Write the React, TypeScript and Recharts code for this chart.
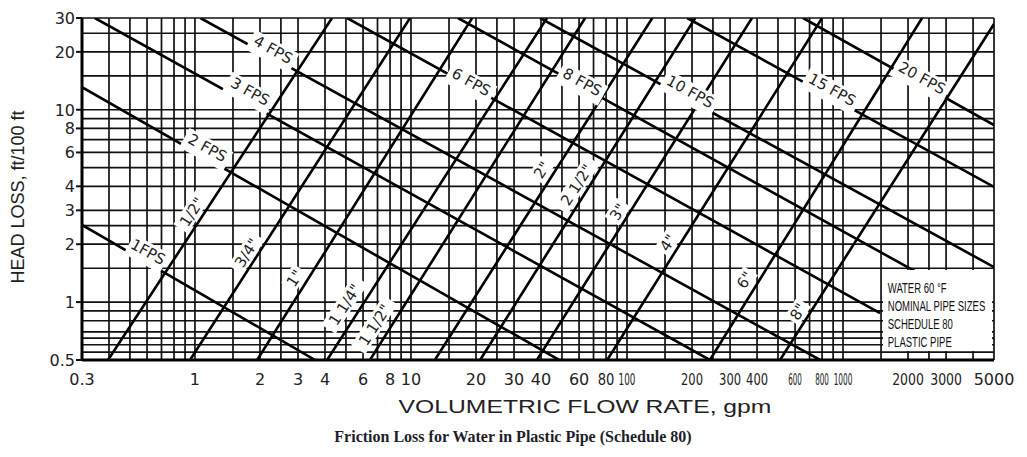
import { LineChart, Line, XAxis, YAxis, CartesianGrid } from "recharts";

// log-log graph paper lines
const flowGrid = [
  0.3, 0.4, 0.5, 0.6, 0.7, 0.8, 0.9, 1, 1.5, 2, 2.5, 3, 4, 5, 6, 7, 8, 9, 10, 15, 20, 25, 30, 40, 50,
  60, 70, 80, 90, 100, 150, 200, 250, 300, 400, 500, 600, 700, 800, 900, 1000, 1500, 2000, 2500,
  3000, 4000, 5000,
];
const headGrid = [
  0.5, 0.55, 0.6, 0.65, 0.7, 0.8, 0.9, 1, 1.5, 2, 2.5, 3, 4, 5, 6, 7, 8, 9, 10, 15, 20, 25, 30,
];
const flowTicks = [
  0.3, 1, 2, 3, 4, 6, 8, 10, 20, 30, 40, 60, 80, 100, 200, 300, 400, 600, 800, 1000, 2000, 3000,
  5000,
];
const headTicks = [0.5, 1, 2, 3, 4, 6, 8, 10, 20, 30];

// constant velocity lines
const velocityNames = ["1FPS", "2 FPS", "3 FPS", "4 FPS", "6 FPS", "8 FPS", "10 FPS", "15 FPS", "20 FPS"];
const velocityStartQ = [0.3, 0.3, 0.344, 1.06, 5.06, 16.5, 39.6, 190, 653];
const velocityStartH = [2.52, 13.1, 30, 30, 30, 30, 30, 30, 30];
const velocityEndQ = [3.6, 48.5, 242, 784, 1484, 2323, 5000, 5000, 5000];
const velocityEndH = [0.5, 0.5, 0.5, 0.5, 0.877, 1.38, 1.52, 3.97, 8.33];
const velocityLabelQ = [0.606, 1.14, 1.8, 2.3, 19, 62, 196, 890, 2320];
const velocityLabelH = [1.82, 6.33, 12.4, 20.5, 13.9, 13.9, 12.4, 12.7, 14.6];

// nominal pipe size lines
const pipeNames = ['1/2"', '3/4"', '1"', '1 1/4"', '1 1/2"', '2"', '2 1/2"', '3"', '4"', '6"', '8"'];
const pipeStartQ = [0.396, 0.949, 1.94, 4.09, 6.46, 12.9, 20.9, 38.3, 81, 242, 511];
const pipeStartH = [0.5, 0.5, 0.5, 0.5, 0.5, 0.5, 0.5, 0.5, 0.5, 0.5, 0.5];
const pipeEndQ = [4.31, 9.9, 19.2, 42.6, 64, 131, 207, 379, 800, 2323, 5000];
const pipeEndH = [30, 30, 30, 30, 30, 30, 30, 30, 30, 30, 27.9];
const pipeLabelQ = [0.97, 1.74, 2.9, 4.95, 6.8, 40.4, 58.7, 90.9, 155, 352, 620];
const pipeLabelH = [2.94, 1.8, 1.33, 0.97, 0.76, 4.86, 4.06, 2.94, 2.03, 1.3, 0.89];

const noteLines = ["WATER 60 °F", "NOMINAL PIPE SIZES", "SCHEDULE 80", "PLASTIC PIPE"];

const INK = "#111";
const TICK_FONT = "'DejaVu Sans', sans-serif";

// the printed scale squeezes the crowded labels (horizontal scale factor)
function squeeze(v: number): number {
  if (v === 5000) return 1;
  if (v >= 2000) return 0.78;
  if (v === 1000) return 0.46;
  if (v >= 600) return 0.45;
  if (v === 100) return 0.55;
  if (v > 100) return 0.72;
  if (v === 80) return 0.82;
  return 1;
}

const FlowTick = (props: any) => {
  const { x, y, payload } = props;
  if (!flowTicks.includes(payload.value)) return <g />;
  const sx = squeeze(payload.value);
  return (
    <text
      transform={`translate(${x},${y + 19}) scale(${sx},1)`}
      textAnchor="middle"
      fontSize={16}
      fill="#222"
      fontFamily={TICK_FONT}
    >
      {payload.value}
    </text>
  );
};

const HeadTick = (props: any) => {
  const { x, y, payload } = props;
  if (!headTicks.includes(payload.value)) return <g />;
  return (
    <g>
      <line x1={x} x2={x + 6} y1={y} y2={y} stroke={INK} strokeWidth={2} />
      <text x={x - 1} y={y} dy={6} textAnchor="end" fontSize={16} fill="#222" fontFamily={TICK_FONT}>
        {payload.value}
      </text>
    </g>
  );
};

const renderLabel = (props: any) => {
  const { cx, cy, payload, index } = props;
  if (cx == null || cy == null) return <g key={`l${index}`} />;
  const w = payload.text.length * 9.2 + 4;
  return (
    <g key={`l${index}`} transform={`translate(${cx},${cy}) rotate(${payload.angle})`}>
      <rect x={-w / 2} y={-9} width={w} height={payload.low} fill="#fff" />
      <text
        textAnchor="middle"
        dominantBaseline="central"
        fontSize={15}
        fill="#222"
        fontFamily={TICK_FONT}
      >
        {payload.text}
      </text>
    </g>
  );
};

export default function App() {
  const velocityLines = velocityNames.map((name, i) => ({
    name,
    data: [
      { q: velocityStartQ[i], h: velocityStartH[i] },
      { q: velocityEndQ[i], h: velocityEndH[i] },
    ],
  }));
  const pipeLines = pipeNames.map((name, i) => ({
    name,
    data: [
      { q: pipeStartQ[i], h: pipeStartH[i] },
      { q: pipeEndQ[i], h: pipeEndH[i] },
    ],
  }));
  const labels = [
    ...velocityNames.map((text, i) => ({ q: velocityLabelQ[i], h: velocityLabelH[i], text, angle: 29, low: 22 })),
    ...pipeNames.map((text, i) => ({ q: pipeLabelQ[i], h: pipeLabelH[i], text, angle: -57, low: 17 })),
  ];

  return (
    <div
      style={{
        position: "absolute",
        left: 0,
        top: 0,
        width: 1027,
        height: 457,
        background: "#fff",
        fontFamily: "'Liberation Sans', Arial, sans-serif",
      }}
    >
      <LineChart width={1027} height={400} margin={{ top: 18, right: 33, bottom: 0, left: 0 }}>
        <CartesianGrid stroke={INK} strokeWidth={1.7} />
        <XAxis
          type="number"
          dataKey="q"
          scale="log"
          domain={[0.3, 5000]}
          allowDataOverflow
          ticks={flowGrid}
          interval={0}
          height={40}
          tick={FlowTick}
          tickLine={false}
          tickSize={6}
          tickMargin={0}
          axisLine={{ stroke: "#000", strokeWidth: 3 }}
        />
        <XAxis
          xAxisId="top"
          orientation="top"
          type="number"
          scale="log"
          domain={[0.3, 5000]}
          allowDataOverflow
          height={0}
          tick={false}
          tickLine={false}
          axisLine={{ stroke: "#000", strokeWidth: 3 }}
        />
        <YAxis
          type="number"
          scale="log"
          domain={[0.5, 30]}
          allowDataOverflow
          ticks={headGrid}
          interval={0}
          width={82}
          tick={HeadTick}
          tickLine={false}
          tickSize={6}
          tickMargin={0}
          axisLine={{ stroke: "#000", strokeWidth: 3 }}
        />
        <YAxis
          yAxisId="right"
          orientation="right"
          type="number"
          scale="log"
          domain={[0.5, 30]}
          allowDataOverflow
          width={0}
          tick={false}
          tickLine={false}
          axisLine={{ stroke: "#000", strokeWidth: 3 }}
        />
        {velocityLines.map((l) => (
          <Line
            key={l.name}
            data={l.data}
            dataKey="h"
            type="linear"
            stroke="#000"
            strokeWidth={2.6}
            dot={false}
            activeDot={false}
            isAnimationActive={false}
          />
        ))}
        {pipeLines.map((l) => (
          <Line
            key={l.name}
            data={l.data}
            dataKey="h"
            type="linear"
            stroke="#000"
            strokeWidth={2.6}
            dot={false}
            activeDot={false}
            isAnimationActive={false}
          />
        ))}
        <Line
          data={labels}
          dataKey="h"
          type="linear"
          stroke="none"
          dot={renderLabel}
          activeDot={false}
          isAnimationActive={false}
        />
      </LineChart>

      {/* note box in the lower right corner */}
      <div
        style={{
          position: "absolute",
          left: 883,
          top: 270,
          width: 109,
          height: 81,
          background: "#fff",
          paddingTop: 9,
          boxSizing: "border-box",
        }}
      >
        {noteLines.map((t) => (
          <div
            key={t}
            style={{
              fontSize: 14,
              lineHeight: "18px",
              color: "#111",
              whiteSpace: "nowrap",
              paddingLeft: 7,
              transform: "scaleX(0.68)",
              transformOrigin: "left center",
            }}
          >
            {t}
          </div>
        ))}
      </div>

      <div
        style={{
          position: "absolute",
          left: 18 - 130,
          top: 197 - 12,
          width: 260,
          height: 24,
          lineHeight: "24px",
          textAlign: "center",
          fontSize: 18,
          color: "#222",
          transform: "rotate(-90deg)",
        }}
      >
        HEAD LOSS, ft/100 ft
      </div>
      <div
        style={{
          position: "absolute",
          left: 385,
          top: 396,
          width: 400,
          textAlign: "center",
          fontSize: 19,
          color: "#222",
          transform: "scaleX(1.3)",
          transformOrigin: "center",
        }}
      >
        VOLUMETRIC FLOW RATE, gpm
      </div>
      <div
        style={{
          position: "absolute",
          left: 263,
          top: 428,
          width: 500,
          textAlign: "center",
          fontSize: 16,
          fontWeight: "bold",
          color: "#1e1e2a",
          fontFamily: "'Liberation Serif', 'Times New Roman', serif",
        }}
      >
        Friction Loss for Water in Plastic Pipe (Schedule 80)
      </div>
    </div>
  );
}
